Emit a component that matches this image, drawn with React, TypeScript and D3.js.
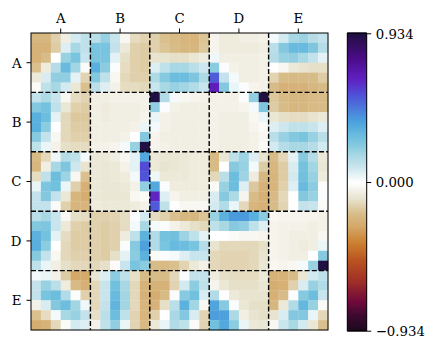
import React, { useEffect, useRef } from 'react';
import * as d3 from 'd3';

const blocks = ['A', 'B', 'C', 'D', 'E'];
const vmax = 0.934;

// correlations in hundredths, one line per row
const rows: number[][] = [
  [-22,-22,-15,-6,8,12, 13,20,10,-3,-12,-14, -15,-19,-21,-23,-23,-18, -4,-7,-7,-6,-6,-5, 2,8,17,19,14,11],
  [-24,-24,-16,6,17,12, 26,26,11,-8,-15,-16, -15,-18,-20,-22,-22,-17, -4,-7,-7,-7,-7,-6, 13,24,30,30,25,14],
  [-24,-20,0,20,26,10, 26,26,5,-11,-15,-16, -10,-10,-11,-11,-9,-7, 3,-6,-6,-6,-6,-5, 14,20,21,17,11,5],
  [-19,-7,14,30,18,-2, 34,22,1,-12,-15,-16, 6,12,17,17,13,9, 22,1,-5,-6,-6,-5, 0,-3,-8,-10,-11,-11],
  [-8,7,21,21,5,-14, 24,12,-3,-13,-15,-15, 16,23,29,29,25,16, 53,11,2,-6,-6,-5, -14,-20,-21,-21,-20,-16],
  [-2,12,17,8,-9,-19, 13,6,-5,-12,-12,-13, 10,17,20,18,15,10, 66,24,4,1,-4,-5, -20,-24,-24,-24,-22,-20],

  [11,16,10,-3,-12,-14, -6,-6,-5,-5,-5,-5, 93,15,2,-3,-4,-5, -5,-5,-5,1,21,93, -17,-21,-22,-22,-21,-20],
  [24,27,12,-9,-15,-16, -6,-7,-6,-6,-6,-5, 21,1,-5,-6,-6,-6, -5,-5,-5,-4,2,25, -16,-20,-22,-22,-21,-20],
  [34,29,5,-13,-17,-17, -6,-7,-6,-6,-6,-4, 4,-5,-6,-6,-6,-6, -5,-6,-6,-6,-3,4, -9,-11,-12,-12,-10,-8],
  [34,22,0,-13,-16,-16, -6,-6,-6,-6,-5,4, 2,-5,-6,-6,-6,-6, -5,-6,-6,-6,-4,-2, 6,9,12,12,10,6],
  [23,11,-3,-13,-15,-15, -6,-6,-6,-5,0,24, -4,-6,-6,-6,-6,-6, -5,-6,-6,-6,-5,-3, 13,20,24,26,20,13],
  [12,4,-5,-11,-12,-12, -5,-5,-4,2,20,93, -4,-5,-6,-6,-6,-6, -5,-6,-6,-6,-5,-2, 8,14,17,17,14,8],

  [-21,-13,3,14,12,2, -8,-8,-6,-3,5,36, -8,-9,-9,-8,-7,-7, -21,-9,12,19,6,-10, -20,-13,5,23,14,-8],
  [-22,-6,17,25,9,-10, -8,-9,-8,-5,5,56, -8,-10,-9,-8,-7,-7, -20,0,23,20,2,-16, -22,-16,7,27,18,-9],
  [-12,12,29,19,-3,-19, -8,-9,-8,-7,2,54, 3,-8,-8,-8,-7,-7, -13,13,29,19,-7,-22, -23,-16,8,28,20,-7],
  [4,25,28,4,-15,-25, -8,-9,-9,-8,-5,21, 36,1,-7,-7,-7,-7, -2,20,29,6,-17,-24, -23,-15,6,30,22,-1],
  [11,24,11,-9,-23,-26, -8,-9,-9,-9,-3,-2, 64,6,-4,-6,-6,-6, 7,23,16,-4,-20,-25, -21,-13,0,24,20,1],
  [11,11,-2,-15,-23,-23, -7,-8,-8,-8,-7,-5, 53,12,0,-3,-3,-3, 8,15,4,-13,-23,-24, -20,-14,0,11,10,-2],

  [13,17,10,-3,-11,-12, -15,-15,-14,-12,1,8, -12,-15,-19,-22,-22,-18, 20,33,40,40,34,22, -3,-4,-4,-4,-4,-5],
  [24,25,10,-8,-15,-16, -15,-16,-15,-12,2,17, 2,1,-5,-8,-11,-13, 12,17,23,21,12,6, -4,-5,-5,-5,-6,-5],
  [33,27,5,-12,-16,-16, -15,-16,-15,-7,12,33, 15,27,28,19,12,5, 0,0,-2,-3,-3,-4, -4,-5,-6,-6,-6,-3],
  [34,22,0,-13,-16,-16, -15,-16,-15,1,23,38, 15,26,30,29,26,14, -10,-13,-13,-13,-13,-11, -4,-5,-6,-7,-6,4],
  [23,11,-3,-13,-15,-15, -15,-16,-11,5,22,33, -2,1,2,6,10,10, -13,-14,-14,-14,-13,-10, -4,-5,-6,-6,0,23],
  [12,4,-6,-11,-13,-13, -13,-11,-1,10,26,22, -20,-21,-19,-14,-8,-5, -13,-14,-14,-14,-13,-9, -3,-4,-3,2,20,93],

  [2,4,-5,-16,-28,-27, -9,6,22,12,-11,-20, -20,-20,-13,1,11,11, -7,-11,-12,-12,-12,-8, -24,-24,-20,-9,8,12],
  [11,20,13,-7,-21,-25, -13,10,28,17,-13,-24, -24,-24,-14,8,22,12, -4,-9,-11,-11,-11,-9, -26,-25,-15,7,20,15],
  [11,26,29,15,1,-15, -13,10,30,18,-13,-24, -26,-21,1,23,28,7, 15,0,-8,-10,-10,-10, -25,-20,1,23,29,10],
  [-5,7,24,29,18,3, -13,11,32,18,-13,-23, -24,-11,13,33,18,-3, 37,23,1,-9,-11,-11, -22,-8,15,31,20,-2],
  [-19,-12,2,17,20,11, -11,13,29,12,-14,-23, -15,0,17,24,7,-14, 39,38,16,-6,-10,-11, -10,7,24,24,4,-13],
  [-26,-24,-13,-2,8,6, -5,12,21,4,-14,-21, -8,4,15,12,-2,-14, 28,36,22,4,-8,-9, -3,10,17,8,-9,-19],
];

const cmapStops = [-0.934, -0.84, -0.75, -0.62, -0.5, -0.38, -0.28, -0.2, -0.1, 0, 0.05, 0.1, 0.17, 0.22, 0.28, 0.35, 0.4, 0.55, 0.65, 0.78, 0.934];
const cmapColors = ['#1c0a1e', '#3c0a30', '#700a3c', '#a03028', '#b85020', '#cc8030', '#d4a868', '#d8bc88', '#e8e4d0', '#ffffff', '#e4f2f5', '#c8e4ec', '#a8d8e4', '#8cccE0', '#70c0de', '#55acdd', '#4a9add', '#5050d8', '#6020c0', '#4c0c88', '#201040'];

const width = 436;
const height = 349;
const mapLeft = 31;
const mapTop = 33;
const mapSize = 297;
const barLeft = 347.3;
const barWidth = 19.4;
const fontFamily = '"DejaVu Serif", serif';

const App = () => {
  const ref = useRef<SVGSVGElement>(null);

  useEffect(() => {
    const svg = d3.select(ref.current);
    svg.selectAll('*').remove();

    const color = d3.scaleLinear<string>().domain(cmapStops).range(cmapColors);

    const cellIdx = d3.range(rows.length);
    const cell = d3.scaleBand<number>().domain(cellIdx).range([0, mapSize]);
    const blockX = d3.scaleBand<string>().domain(blocks).range([mapLeft, mapLeft + mapSize]);
    const blockY = d3.scaleBand<string>().domain(blocks).range([mapTop, mapTop + mapSize]);

    const map = svg.append('g').attr('transform', `translate(${mapLeft}, ${mapTop})`);

    rows.forEach((row, r) => {
      map.append('g').selectAll('rect').data(row).enter().append('rect')
        .attr('x', (_, c) => cell(c)!)
        .attr('y', cell(r)!)
        .attr('width', cell.bandwidth() + 0.3)
        .attr('height', cell.bandwidth() + 0.3)
        .attr('fill', d => color(d / 100));
    });

    // dashed block separators
    const inner = blocks.slice(1);
    svg.append('g').selectAll('line').data(inner).enter().append('line')
      .attr('x1', d => blockX(d)!).attr('x2', d => blockX(d)!)
      .attr('y1', mapTop).attr('y2', mapTop + mapSize)
      .attr('stroke', '#000').attr('stroke-width', 1.4).attr('stroke-dasharray', '5,2.2');
    svg.append('g').selectAll('line').data(inner).enter().append('line')
      .attr('y1', d => blockY(d)!).attr('y2', d => blockY(d)!)
      .attr('x1', mapLeft).attr('x2', mapLeft + mapSize)
      .attr('stroke', '#000').attr('stroke-width', 1.4).attr('stroke-dasharray', '5,2.2');

    svg.append('rect')
      .attr('x', mapLeft).attr('y', mapTop).attr('width', mapSize).attr('height', mapSize)
      .attr('fill', 'none').attr('stroke', '#000').attr('stroke-width', 1);

    const top = svg.append('g').attr('transform', `translate(0, ${mapTop})`)
      .call(d3.axisTop(blockX).tickSize(4.5).tickPadding(6));
    const left = svg.append('g').attr('transform', `translate(${mapLeft}, 0)`)
      .call(d3.axisLeft(blockY).tickSize(4.5).tickPadding(5));

    // colorbar
    const barY = d3.scaleLinear().domain([-vmax, vmax]).range([330.7, 33.3]);
    const steps = d3.range(0, 256).map(i => -vmax + (2 * vmax * i) / 255);
    svg.append('g').selectAll('rect').data(steps).enter().append('rect')
      .attr('x', barLeft)
      .attr('y', d => barY(d) - 1)
      .attr('width', barWidth)
      .attr('height', 2)
      .attr('fill', d => color(d));
    svg.append('rect')
      .attr('x', barLeft).attr('y', 33.3).attr('width', barWidth).attr('height', 297.4)
      .attr('fill', 'none').attr('stroke', '#000').attr('stroke-width', 1);

    const right = svg.append('g').attr('transform', `translate(${barLeft + barWidth}, 0)`)
      .call(d3.axisRight(barY)
        .tickValues([-vmax, 0, vmax])
        .tickFormat(d => (+d).toFixed(3).replace('-', '\u2212'))
        .tickSize(4.5).tickPadding(4.5));

    [top, left, right].forEach(axis => {
      axis.select('.domain').remove();
      axis.selectAll('.tick line').attr('stroke', '#000').attr('stroke-width', 1);
      axis.selectAll('.tick text').attr('fill', '#000').attr('font-size', 13.3).attr('font-family', fontFamily);
    });
    [left, right].forEach(axis => axis.selectAll('.tick text').attr('dy', '0.37em'));
  }, []);

  return (
    <svg
      ref={ref}
      width={width}
      height={height}
      style={{ position: 'absolute', left: 0, top: 0, background: '#fff' }}
    />
  );
};

export default App;
